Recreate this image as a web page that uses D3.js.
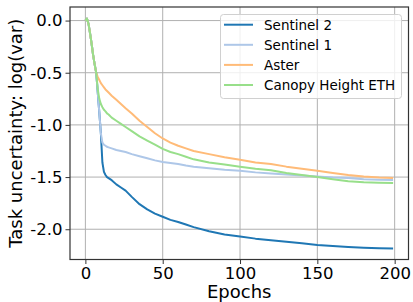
<!DOCTYPE html>
<html>
<head>
<meta charset="utf-8">
<script src="https://cdn.jsdelivr.net/npm/d3@7"></script>
<style>
  html, body { margin: 0; padding: 0; background: #fff; }
  svg { display: block; }
  text { font-family: "DejaVu Sans", sans-serif; fill: #000; }
</style>
</head>
<body>
<svg id="chart" width="413" height="302"></svg>
<script>
const epochs = [0,1,2,3,4,5,6,7,8,9,10,11,12,13,14,15,17,20,23,26,30,35,40,45,50,55,60,65,70,80,90,100,110,120,130,140,150,160,170,180,190,199];

const sentinel2 = [0.00,0.02,-0.03,-0.12,-0.22,-0.33,-0.42,-0.50,-0.69,-0.88,-1.08,-1.36,-1.45,-1.48,-1.50,-1.51,-1.53,-1.57,-1.60,-1.63,-1.69,-1.76,-1.81,-1.85,-1.88,-1.91,-1.93,-1.955,-1.98,-2.02,-2.05,-2.07,-2.09,-2.105,-2.12,-2.135,-2.15,-2.16,-2.17,-2.178,-2.183,-2.185];
const sentinel1 = [0.00,0.02,-0.03,-0.12,-0.22,-0.33,-0.42,-0.50,-0.69,-0.88,-1.08,-1.17,-1.19,-1.20,-1.21,-1.215,-1.225,-1.24,-1.25,-1.26,-1.28,-1.30,-1.32,-1.34,-1.355,-1.365,-1.375,-1.39,-1.40,-1.415,-1.43,-1.44,-1.455,-1.465,-1.475,-1.485,-1.495,-1.505,-1.51,-1.52,-1.525,-1.527];
const aster = [0.00,0.02,-0.03,-0.12,-0.22,-0.33,-0.42,-0.50,-0.54,-0.57,-0.60,-0.62,-0.64,-0.66,-0.675,-0.69,-0.72,-0.76,-0.80,-0.84,-0.89,-0.96,-1.02,-1.08,-1.13,-1.17,-1.20,-1.225,-1.25,-1.28,-1.31,-1.335,-1.36,-1.375,-1.40,-1.42,-1.44,-1.46,-1.48,-1.495,-1.505,-1.51];
const canopy = [0.00,0.02,-0.03,-0.12,-0.22,-0.33,-0.42,-0.50,-0.66,-0.75,-0.80,-0.83,-0.855,-0.87,-0.89,-0.90,-0.93,-0.96,-0.99,-1.02,-1.06,-1.11,-1.15,-1.19,-1.23,-1.26,-1.28,-1.305,-1.33,-1.36,-1.38,-1.40,-1.42,-1.435,-1.46,-1.48,-1.50,-1.52,-1.54,-1.55,-1.555,-1.557];

const seriesNames = ["Sentinel 2", "Sentinel 1", "Aster", "Canopy Height ETH"];
const seriesValues = [sentinel2, sentinel1, aster, canopy];
const seriesColors = ["#1f77b4", "#aec7e8", "#ffbb78", "#98df8a"];

const xTicks = [0, 50, 100, 150, 200];
const yTicks = [0.0, -0.5, -1.0, -1.5, -2.0];

(function () {
const svg = d3.select("#chart");
const mLeft = 70, mRight = 408.5, mTop = 7, mBottom = 259.5;

const x = d3.scaleLinear().domain([-9.95, 208.95]).range([mLeft, mRight]);
const y = d3.scaleLinear().domain([-2.29, 0.13]).range([mBottom, mTop]);

// grid
const grid = svg.append("g");
grid.selectAll("line.gx").data(xTicks).enter().append("line")
  .attr("x1", d => x(d)).attr("x2", d => x(d)).attr("y1", mTop).attr("y2", mBottom)
  .attr("stroke", "#b0b0b0").attr("stroke-width", 1);
grid.selectAll("line.gy").data(yTicks).enter().append("line")
  .attr("x1", mLeft).attr("x2", mRight).attr("y1", d => y(d)).attr("y2", d => y(d))
  .attr("stroke", "#b0b0b0").attr("stroke-width", 1);

// lines
const line = d3.line().x(d => x(d[0])).y(d => y(d[1]));
svg.append("clipPath").attr("id", "clip").append("rect")
  .attr("x", mLeft).attr("y", mTop).attr("width", mRight - mLeft).attr("height", mBottom - mTop);
const lines = svg.append("g").attr("clip-path", "url(#clip)");
seriesValues.forEach((vals, i) => {
  lines.append("path")
    .datum(epochs.map((e, j) => [e, vals[j]]))
    .attr("fill", "none")
    .attr("stroke", seriesColors[i])
    .attr("stroke-width", 2)
    .attr("stroke-linejoin", "round")
    .attr("d", line);
});

// axes
const fmt = d3.format(".1f");
const xAxis = svg.append("g").attr("transform", `translate(0,${mBottom})`)
  .call(d3.axisBottom(x).tickValues(xTicks).tickSize(4.5).tickPadding(3).tickFormat(d3.format("d")));
const yAxis = svg.append("g").attr("transform", `translate(${mLeft},0)`)
  .call(d3.axisLeft(y).tickValues(yTicks).tickSize(4.5).tickPadding(3).tickFormat(d => fmt(d).replace("−", "-")));
[xAxis, yAxis].forEach(a => {
  a.select(".domain").remove();
  a.selectAll("line").attr("stroke", "#333").attr("stroke-width", 1);
  a.selectAll("text").attr("font-size", "16.5px").attr("font-family", "DejaVu Sans, sans-serif").attr("fill", "#000");
});

// frame
svg.append("rect").attr("x", mLeft).attr("y", mTop).attr("width", mRight - mLeft).attr("height", mBottom - mTop)
  .attr("fill", "none").attr("stroke", "#333").attr("stroke-width", 1.2);

// labels
svg.append("text").attr("x", (mLeft + mRight) / 2).attr("y", 298)
  .attr("text-anchor", "middle").attr("font-size", "18px").text("Epochs");
svg.append("text").attr("transform", `translate(22,${(mTop + mBottom) / 2}) rotate(-90)`)
  .attr("text-anchor", "middle").attr("font-size", "18px").text("Task uncertainty: log(var)");

// legend
const lg = svg.append("g");
lg.append("rect").attr("x", 220.5).attr("y", 14.5).attr("width", 181).attr("height", 84)
  .attr("rx", 3).attr("fill", "#fff").attr("fill-opacity", 0.8).attr("stroke", "#d0d0d0").attr("stroke-width", 1);
seriesNames.forEach((name, i) => {
  const yy = 24.7 + i * 20.1;
  lg.append("line").attr("x1", 224).attr("x2", 253).attr("y1", yy).attr("y2", yy)
    .attr("stroke", seriesColors[i]).attr("stroke-width", 2);
  lg.append("text").attr("x", 264).attr("y", yy + 4.8).attr("font-size", "13.5px").text(name);
});
})();
</script>
</body>
</html>
